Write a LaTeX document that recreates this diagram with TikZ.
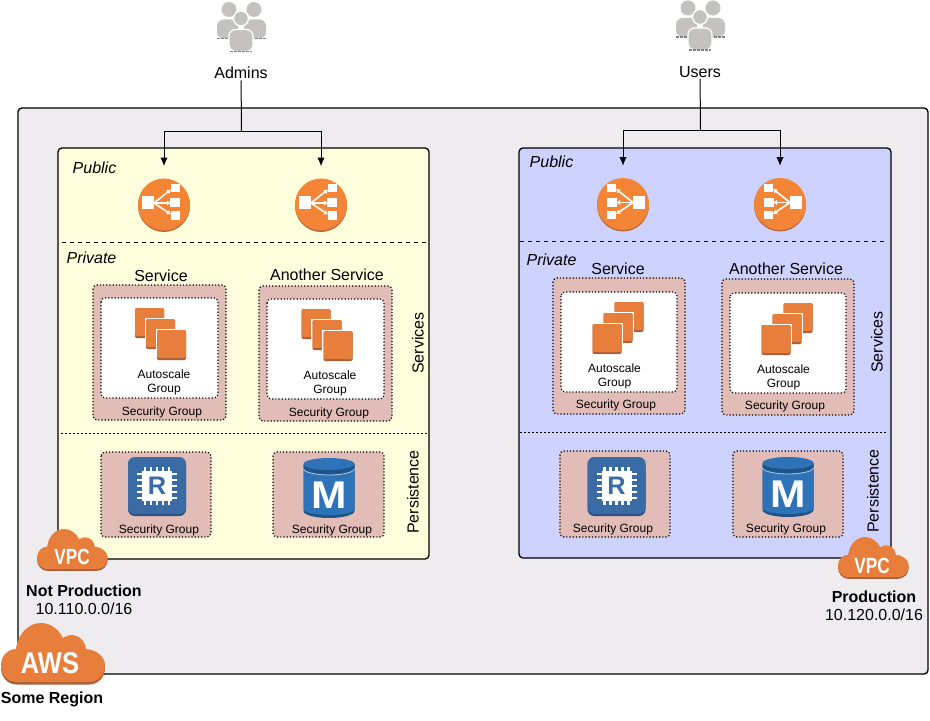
\documentclass[tikz,border=0pt]{standalone}
\usepackage{fontspec}
\usetikzlibrary{arrows.meta}
\setmainfont{Liberation Sans}
\definecolor{regionbg}{HTML}{EEECEF}
\definecolor{yellowbg}{HTML}{FFFFDD}
\definecolor{bluebg}{HTML}{CDD2FF}
\definecolor{sgbg}{HTML}{E2BDB8}
\definecolor{awsorange}{HTML}{E87E3B}
\definecolor{awsshadow}{HTML}{A9603A}
\definecolor{elborange}{HTML}{F58536}
\definecolor{rdsblue}{HTML}{3A6BA5}
\definecolor{rdsdark}{HTML}{2A4E7D}
\definecolor{cylblue}{HTML}{2E73B8}
\definecolor{cyldark}{HTML}{1F5488}
\definecolor{usergrey}{HTML}{C4C1C1}
\tikzset{
  vpcbox/.style={draw=black,line width=1pt,rounded corners=3pt},
  sgbox/.style={draw=black,fill=sgbg,line width=.9pt,dash pattern=on .9pt off 1.5pt,rounded corners=3pt},
  asgbox/.style={draw=black,fill=white,line width=.9pt,dash pattern=on .9pt off 1.5pt,rounded corners=3pt},
  elbnode/.style={circle,minimum size=39pt,inner sep=0pt},
  sidelabel/.style={inner sep=1pt,font=\fontsize{12}{14}\selectfont},
  label/.style={sidelabel,yshift=-.75pt},
  boldlabel/.style={label,font=\fontsize{12}{14}\selectfont\bfseries},
  small/.style={inner sep=1pt,yshift=-.75pt,align=center,font=\fontsize{9}{10.5}\selectfont},
  zone/.style={inner sep=1pt,yshift=-.75pt,font=\fontsize{12}{14}\selectfont\itshape},
  flow/.style={line width=.75pt},
  tip/.style={flow,-{Latex[length=6.5pt,width=5.5pt]},shorten >=9pt},
  cloudicon/.pic={
    \foreach \d/\c in {2.5/awsshadow,0/awsorange}
      \fill[\c,yshift=-\d*.75pt] (16,59) .. controls (5,59) and (0,50) .. (0,42)
        .. controls (0,32) and (8,26) .. (15,26)
        .. controls (17,10) and (28,0) .. (40,0)
        .. controls (50,0) and (58,7) .. (62,15)
        .. controls (70,9) and (83,12) .. (85,26)
        .. controls (96,27) and (104,34) .. (104,42)
        .. controls (104,52) and (97,59) .. (88,59) -- cycle;
  },
  elbarrows/.pic={
    \fill[awsshadow!80!awsorange] (0,1.5) circle [radius=26];
    \fill[elborange] (0,0) circle [radius=26];
    \fill[white] (-22,-8) rectangle (-10,5);
    \fill[white] (7,-20) rectangle (16,-12);
    \fill[white] (6,-6) rectangle (16,3);
    \fill[white] (7,7) rectangle (16,15);
    \foreach \y in {-15,-1.5,10}
      \draw[white,line width=1.2pt,-{Latex[length=3pt,width=4pt]}] (-10,-1.5) -- (7,\y);
  },
  stackicon/.pic={
    \foreach \d in {0,11,22} {
      \fill[white] ({-27+\d},{-27.5+\d}) rectangle ({3.5+\d},{3.5+\d});
      \fill[awsshadow,rounded corners=1pt] ({-25.5+\d},{-26+\d}) rectangle ({3.5+\d},{4+\d});
      \fill[awsorange,rounded corners=1pt] ({-25.5+\d},{-26+\d}) rectangle ({3.5+\d},{2+\d});
    }
  },
  chipicon/.pic={
    \fill[rdsdark,rounded corners=5pt] (-29,-28) rectangle (29,30);
    \fill[rdsblue,rounded corners=5pt] (-29,-29) rectangle (29,28);
    \foreach \d in {-12,-6,0,6,12} {
      \draw[white,line width=1.6pt] (\d,-19) -- (\d,19);
      \draw[white,line width=1.6pt] (-20,\d) -- (20,\d);
    }
    \fill[white] (-15,-15) rectangle (15,15);
  },
  cylicon/.pic={
    \fill[cyldark] (-25.5,-23) -- (-25.5,23) arc [start angle=180,end angle=360,x radius=25.5,y radius=-7] -- (25.5,-23) -- cycle;
    \fill[cylblue] (-25.5,-20) -- (-25.5,21) arc [start angle=180,end angle=360,x radius=25.5,y radius=-6] -- (25.5,-20) -- cycle;
    \fill[cyldark] (-25.5,-24) -- (-25.5,-20) arc [start angle=180,end angle=360,x radius=25.5,y radius=-6.5] -- (25.5,-24) -- cycle;
    \draw[cylblue!40!white,line width=.6pt] (-25.5,-19.5) arc [start angle=180,end angle=360,x radius=25.5,y radius=-6.5];
    \fill[cylblue] (0,-24) ellipse [x radius=25.5,y radius=6];
  },
  usersicon/.pic={
    \fill[usergrey] (-12,-18) circle [radius=7.5];
    \fill[usergrey] (13,-18) circle [radius=7.5];
    \fill[usergrey,rounded corners=5pt] (-24,11) -- (-24,-8) -- (-3,-8) -- (-3,11) -- cycle;
    \fill[usergrey,rounded corners=5pt] (3,11) -- (3,-8) -- (25,-8) -- (25,11) -- cycle;
    \draw[gray,line width=.8pt,dash pattern=on 2pt off 1pt] (-24,11) -- (-10,11) (10,11) -- (25,11);
    \fill[usergrey,draw=white,line width=1pt] (0,-9) circle [radius=7.5];
    \fill[usergrey,draw=white,line width=1pt,rounded corners=5pt] (-12,24) -- (-12,2) -- (12,2) -- (12,24) -- cycle;
    \draw[gray,line width=.8pt,dash pattern=on 2pt off 1pt] (-11,24) -- (11,24);
  },
}
\begin{document}
\begin{tikzpicture}[x=.75pt,y=-.75pt]
\useasboundingbox (0,0) rectangle (930,720);
% region and the two vpcs
\draw[vpcbox,fill=regionbg] (18,108) rectangle (928,674);
\draw[vpcbox,fill=yellowbg] (58,148) rectangle (429,559);
\draw[vpcbox,fill=bluebg] (519,148) rectangle (891,558);
\draw[dashed,line width=.7pt] (62,242) -- (427,242);
\draw[dashed,line width=.7pt] (520,241) -- (886,241);
\draw[line width=.7pt,dash pattern=on 1.5pt off 1.5pt] (61,433) -- (427,433);
\draw[line width=.7pt,dash pattern=on 1.5pt off 1.5pt] (520,432) -- (886,432);

\node[zone] (publicA) at (94.5,167) {Public};
\node[zone] (privateA) at (91.5,257) {Private};
\node[zone] (publicB) at (551.5,161) {Public};
\node[zone] (privateB) at (551.5,259) {Private};

% people on top
\pic at (241,27.5) {usersicon};
\pic at (700,26) {usersicon};
\node[label] (admins) at (241,72) {Admins};
\node[label] (users) at (700,71) {Users};

% load balancers
\node[elbnode] (elbA) at (164,204.5) {};
\node[elbnode] (elbB) at (321,204.5) {};
\node[elbnode] (elbC) at (623,204) {};
\node[elbnode] (elbD) at (780,204) {};
\pic at (elbA) {elbarrows};
\pic at (elbB) {elbarrows};
\pic[xscale=-1] at (elbC) {elbarrows};
\pic[xscale=-1] at (elbD) {elbarrows};

\coordinate (adminsjoin) at (241.5,131.5);
\coordinate (usersjoin) at (700.5,130.5);
\draw[flow] (admins) -- (adminsjoin);
\draw[flow] (users) -- (usersjoin);
\draw[tip] (adminsjoin) -| (elbA.north);
\draw[tip] (adminsjoin) -| (elbB.north);
\draw[tip] (usersjoin) -| (elbC.north);
\draw[tip] (usersjoin) -| (elbD.north);

% services
\node[label] (serviceA) at (161,275) {Service};
\node[label] (anotherA) at (327,274) {Another Service};
\node[label] (serviceB) at (618,268) {Service};
\node[label] (anotherB) at (786,268) {Another Service};
\draw[sgbox] (93,285) rectangle (226,420);
\draw[asgbox] (101,298) rectangle (218,398);
\draw[sgbox] (259,286) rectangle (392,421);
\draw[asgbox] (267,299) rectangle (384,399);
\draw[sgbox] (553,278) rectangle (685,414);
\draw[asgbox] (561,292) rectangle (677,392);
\draw[sgbox] (722,279) rectangle (854,415);
\draw[asgbox] (730,293) rectangle (846,393);
\pic at (160.5,334) {stackicon};
\pic at (327,335) {stackicon};
\pic[xscale=-1] at (618,328) {stackicon};
\pic[xscale=-1] at (787,329) {stackicon};
\node[small] (asgA) at (164,381) {Autoscale\\Group};
\node[small] (asgB) at (330,382) {Autoscale\\Group};
\node[small] (asgC) at (614.5,375) {Autoscale\\Group};
\node[small] (asgD) at (783.5,376) {Autoscale\\Group};
\node[small] (sgA) at (162,411) {Security Group};
\node[small] (sgB) at (329,412) {Security Group};
\node[small] (sgC) at (616,404) {Security Group};
\node[small] (sgD) at (785,405) {Security Group};
\node[sidelabel,rotate=90] (servicesA) at (418,343) {Services};
\node[sidelabel,rotate=90] (servicesB) at (877,342) {Services};

% persistence
\draw[sgbox] (101,452) rectangle (211,537);
\draw[sgbox] (273,452) rectangle (384,537);
\draw[sgbox] (560,451) rectangle (670,537);
\draw[sgbox] (733,451) rectangle (843,537);
\pic at (157,486) {chipicon};
\pic at (616.5,486) {chipicon};
\pic at (329,488) {cylicon};
\pic at (788,487) {cylicon};
\node[inner sep=0pt,text=rdsblue,font=\fontsize{19}{19}\selectfont\bfseries] (rdsA) at (157,486) {R};
\node[inner sep=0pt,text=rdsblue,font=\fontsize{19}{19}\selectfont\bfseries] (rdsB) at (616.5,486) {R};
\node[inner sep=0pt,text=white,xscale=1.1,font=\fontsize{29}{29}\selectfont\bfseries] (dbA) at (329,495) {M};
\node[inner sep=0pt,text=white,xscale=1.1,font=\fontsize{29}{29}\selectfont\bfseries] (dbB) at (788,494) {M};
\node[small] (sgE) at (159,529) {Security Group};
\node[small] (sgF) at (332,529) {Security Group};
\node[small] (sgG) at (613,528) {Security Group};
\node[small] (sgH) at (786,528) {Security Group};
\node[sidelabel,rotate=90] (persistA) at (413,492) {Persistence};
\node[sidelabel,rotate=90] (persistB) at (873,491) {Persistence};

% clouds and their names
\pic[scale=.68] at (37,529) {cloudicon};
\pic[scale=.68] at (838,537) {cloudicon};
\pic at (1,623) {cloudicon};
\node[inner sep=0pt,text=white,xscale=.78,font=\fontsize{16.5}{16.5}\selectfont\bfseries] (vpcA) at (72,557) {VPC};
\node[inner sep=0pt,text=white,xscale=.78,font=\fontsize{16.5}{16.5}\selectfont\bfseries] (vpcB) at (872,566) {VPC};
\node[inner sep=0pt,text=white,xscale=.85,font=\fontsize{22.5}{22.5}\selectfont\bfseries] (aws) at (50,663) {AWS};
\node[boldlabel] (notprod) at (84,590) {Not Production};
\node[label] (notprodnet) at (84,608) {10.110.0.0/16};
\node[boldlabel] (prod) at (874,596) {Production};
\node[label] (prodnet) at (874,614) {10.120.0.0/16};
\node[boldlabel] (region) at (52,698) {Some Region};
\end{tikzpicture}
\end{document}
